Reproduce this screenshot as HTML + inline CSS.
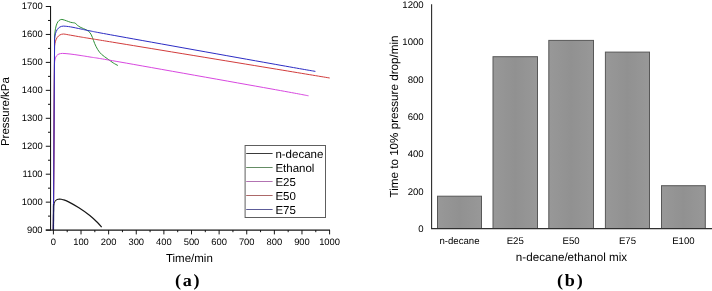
<!DOCTYPE html>
<html><head><meta charset="utf-8"><title>Figure</title>
<style>
html,body{margin:0;padding:0;background:#fff;}
svg{display:block;filter:blur(0.3px);}
text{font-family:"Liberation Sans",Arial,sans-serif;fill:#000;text-rendering:geometricPrecision;}
.tk{font-size:9.4px;}
.tkr{font-size:9.6px;}
.ttl{font-size:11.5px;}
.ttr{font-size:11.65px;}
.lg{font-size:11.5px;}
.cap{font-family:"Liberation Serif","DejaVu Serif",serif;font-weight:bold;font-size:16.2px;letter-spacing:1.6px;}
</style></head><body>
<svg width="712" height="291" viewBox="0 0 712 291">
<rect width="712" height="291" fill="#fff"/>
<g id="left">
<path d="M53.4,230L53.55,206C54.1,201 55.5,199.1 59.6,199.0C60.73,199.12 61.58,199.27 63.00,199.70C64.42,200.13 65.45,200.25 68.10,201.60C70.75,202.95 75.28,205.48 78.90,207.80C82.52,210.12 86.70,213.05 89.80,215.50C92.90,217.95 95.52,220.57 97.50,222.50C99.48,224.43 101.00,226.33 101.70,227.10" fill="none" stroke="#161616" stroke-width="1.2"/>
<path d="M53.4,230L54.62,36C55.4,25 57.5,19.6 61.9,19.4C63.43,19.63 65.05,20.32 66.50,20.80C67.95,21.28 69.42,21.97 70.60,22.30C71.78,22.63 72.82,22.65 73.60,22.80C74.38,22.95 74.68,22.80 75.30,23.20C75.92,23.60 76.37,24.48 77.30,25.20C78.23,25.92 79.42,26.73 80.90,27.50C82.38,28.27 84.68,28.93 86.20,29.80C87.72,30.67 88.97,31.43 90.00,32.70C91.03,33.97 91.62,35.58 92.40,37.40C93.18,39.22 93.80,41.55 94.70,43.60C95.60,45.65 96.65,47.90 97.80,49.70C98.95,51.50 99.93,52.85 101.60,54.40C103.27,55.95 105.87,57.58 107.80,59.00C109.73,60.42 111.52,61.82 113.20,62.90C114.88,63.98 117.12,65.07 117.90,65.50" fill="none" stroke="#2f9038" stroke-width="1.0"/>
<path d="M53.4,230L54.44,64C54.9,56 57,53.6 62.4,53.4C64.93,53.50 67.07,53.67 70.00,54.00C72.93,54.33 76.67,54.90 80.00,55.40C83.33,55.90 83.33,55.90 90.00,57.00C96.67,58.10 90.00,56.72 120.00,62.00C150.00,67.28 238.58,83.07 270.00,88.70C301.42,94.33 302.08,94.62 308.50,95.80" fill="none" stroke="#d848e0" stroke-width="1.0"/>
<path d="M53.4,230L54.55,46C55.3,39 58,34.2 63.4,34.0C65.80,34.20 67.68,34.70 70.60,35.20C73.52,35.70 77.67,36.45 80.90,37.00C84.13,37.55 83.48,37.43 90.00,38.50C96.52,39.57 90.00,38.47 120.00,43.40C150.00,48.33 235.05,62.33 270.00,68.10C304.95,73.87 319.75,76.35 329.70,78.00" fill="none" stroke="#d23c3c" stroke-width="1.0"/>
<path d="M53.4,230L54.6,38.8C55.2,31 58,26.3 63.4,26.1C65.80,26.23 67.68,26.42 70.60,26.90C73.52,27.38 77.67,28.33 80.90,29.00C84.13,29.67 83.48,29.65 90.00,30.90C96.52,32.15 90.00,31.08 120.00,36.50C150.00,41.92 237.43,57.58 270.00,63.40C302.57,69.22 307.83,70.07 315.40,71.40" fill="none" stroke="#2c2cc4" stroke-width="1.0"/>
<line x1="53.4" y1="230" x2="53.56" y2="204" stroke="#1c1c60" stroke-width="1.3"/>
<line x1="50.55" y1="6" x2="50.55" y2="230.6" stroke="#141414" stroke-width="1.05"/>
<line x1="45.8" y1="230.1" x2="330" y2="230.1" stroke="#141414" stroke-width="1.1"/>
<line x1="45.8" y1="230.10" x2="50.5" y2="230.10" stroke="#141414" stroke-width="1"/>
<text class="tk" x="42.6" y="233.00" text-anchor="end">900</text>
<line x1="48" y1="216.12" x2="50.5" y2="216.12" stroke="#141414" stroke-width="1"/>
<line x1="45.8" y1="202.15" x2="50.5" y2="202.15" stroke="#141414" stroke-width="1"/>
<text class="tk" x="42.6" y="205.05" text-anchor="end">1000</text>
<line x1="48" y1="188.17" x2="50.5" y2="188.17" stroke="#141414" stroke-width="1"/>
<line x1="45.8" y1="174.20" x2="50.5" y2="174.20" stroke="#141414" stroke-width="1"/>
<text class="tk" x="42.6" y="177.10" text-anchor="end">1100</text>
<line x1="48" y1="160.22" x2="50.5" y2="160.22" stroke="#141414" stroke-width="1"/>
<line x1="45.8" y1="146.25" x2="50.5" y2="146.25" stroke="#141414" stroke-width="1"/>
<text class="tk" x="42.6" y="149.15" text-anchor="end">1200</text>
<line x1="48" y1="132.28" x2="50.5" y2="132.28" stroke="#141414" stroke-width="1"/>
<line x1="45.8" y1="118.30" x2="50.5" y2="118.30" stroke="#141414" stroke-width="1"/>
<text class="tk" x="42.6" y="121.20" text-anchor="end">1300</text>
<line x1="48" y1="104.32" x2="50.5" y2="104.32" stroke="#141414" stroke-width="1"/>
<line x1="45.8" y1="90.35" x2="50.5" y2="90.35" stroke="#141414" stroke-width="1"/>
<text class="tk" x="42.6" y="93.25" text-anchor="end">1400</text>
<line x1="48" y1="76.38" x2="50.5" y2="76.38" stroke="#141414" stroke-width="1"/>
<line x1="45.8" y1="62.40" x2="50.5" y2="62.40" stroke="#141414" stroke-width="1"/>
<text class="tk" x="42.6" y="65.30" text-anchor="end">1500</text>
<line x1="48" y1="48.42" x2="50.5" y2="48.42" stroke="#141414" stroke-width="1"/>
<line x1="45.8" y1="34.45" x2="50.5" y2="34.45" stroke="#141414" stroke-width="1"/>
<text class="tk" x="42.6" y="37.35" text-anchor="end">1600</text>
<line x1="48" y1="20.47" x2="50.5" y2="20.47" stroke="#141414" stroke-width="1"/>
<line x1="45.8" y1="6.50" x2="50.5" y2="6.50" stroke="#141414" stroke-width="1"/>
<text class="tk" x="42.6" y="9.40" text-anchor="end">1700</text>
<line x1="53.40" y1="230" x2="53.40" y2="234.4" stroke="#141414" stroke-width="1"/>
<text class="tk" x="53.40" y="244.7" text-anchor="middle">0</text>
<line x1="67.21" y1="230" x2="67.21" y2="232.2" stroke="#141414" stroke-width="1"/>
<line x1="81.02" y1="230" x2="81.02" y2="234.4" stroke="#141414" stroke-width="1"/>
<text class="tk" x="81.02" y="244.7" text-anchor="middle">100</text>
<line x1="94.83" y1="230" x2="94.83" y2="232.2" stroke="#141414" stroke-width="1"/>
<line x1="108.64" y1="230" x2="108.64" y2="234.4" stroke="#141414" stroke-width="1"/>
<text class="tk" x="108.64" y="244.7" text-anchor="middle">200</text>
<line x1="122.45" y1="230" x2="122.45" y2="232.2" stroke="#141414" stroke-width="1"/>
<line x1="136.26" y1="230" x2="136.26" y2="234.4" stroke="#141414" stroke-width="1"/>
<text class="tk" x="136.26" y="244.7" text-anchor="middle">300</text>
<line x1="150.07" y1="230" x2="150.07" y2="232.2" stroke="#141414" stroke-width="1"/>
<line x1="163.88" y1="230" x2="163.88" y2="234.4" stroke="#141414" stroke-width="1"/>
<text class="tk" x="163.88" y="244.7" text-anchor="middle">400</text>
<line x1="177.69" y1="230" x2="177.69" y2="232.2" stroke="#141414" stroke-width="1"/>
<line x1="191.50" y1="230" x2="191.50" y2="234.4" stroke="#141414" stroke-width="1"/>
<text class="tk" x="191.50" y="244.7" text-anchor="middle">500</text>
<line x1="205.31" y1="230" x2="205.31" y2="232.2" stroke="#141414" stroke-width="1"/>
<line x1="219.12" y1="230" x2="219.12" y2="234.4" stroke="#141414" stroke-width="1"/>
<text class="tk" x="219.12" y="244.7" text-anchor="middle">600</text>
<line x1="232.93" y1="230" x2="232.93" y2="232.2" stroke="#141414" stroke-width="1"/>
<line x1="246.74" y1="230" x2="246.74" y2="234.4" stroke="#141414" stroke-width="1"/>
<text class="tk" x="246.74" y="244.7" text-anchor="middle">700</text>
<line x1="260.55" y1="230" x2="260.55" y2="232.2" stroke="#141414" stroke-width="1"/>
<line x1="274.36" y1="230" x2="274.36" y2="234.4" stroke="#141414" stroke-width="1"/>
<text class="tk" x="274.36" y="244.7" text-anchor="middle">800</text>
<line x1="288.17" y1="230" x2="288.17" y2="232.2" stroke="#141414" stroke-width="1"/>
<line x1="301.98" y1="230" x2="301.98" y2="234.4" stroke="#141414" stroke-width="1"/>
<text class="tk" x="301.98" y="244.7" text-anchor="middle">900</text>
<line x1="315.79" y1="230" x2="315.79" y2="232.2" stroke="#141414" stroke-width="1"/>
<line x1="329.60" y1="230" x2="329.60" y2="234.4" stroke="#141414" stroke-width="1"/>
<text class="tk" x="329.60" y="244.7" text-anchor="middle">1000</text>
<text class="ttl" transform="translate(9.2,111.6) rotate(-90)" text-anchor="middle">Pressure/kPa</text>
<text class="ttl" x="189.4" y="262.35" text-anchor="middle">Time/min</text>
<rect x="245.1" y="145.5" width="80.4" height="72" fill="#fff" stroke="#5e5e5e" stroke-width="1"/>
<line x1="246.2" y1="153.50" x2="272.6" y2="153.50" stroke="#3a3a3a" stroke-width="1"/>
<text class="lg" x="275.4" y="157.60">n-decane</text>
<line x1="246.2" y1="167.50" x2="272.6" y2="167.50" stroke="#648c64" stroke-width="1"/>
<text class="lg" x="275.4" y="171.60">Ethanol</text>
<line x1="246.2" y1="181.50" x2="272.6" y2="181.50" stroke="#b273b2" stroke-width="1"/>
<text class="lg" x="275.4" y="185.60">E25</text>
<line x1="246.2" y1="195.50" x2="272.6" y2="195.50" stroke="#ac6868" stroke-width="1"/>
<text class="lg" x="275.4" y="199.60">E50</text>
<line x1="246.2" y1="209.50" x2="272.6" y2="209.50" stroke="#5c5c98" stroke-width="1"/>
<text class="lg" x="275.4" y="213.60">E75</text>
<text class="cap" transform="translate(188.2,286.3) scale(1.12,1.06)" text-anchor="middle">(a)</text>
</g>
<g id="right">
<defs><linearGradient id="bg" x1="0" x2="1" y1="0" y2="0"><stop offset="0" stop-color="#989898"/><stop offset="0.5" stop-color="#919191"/><stop offset="1" stop-color="#989898"/></linearGradient></defs>
<rect x="437.50" y="196.20" width="44.00" height="32.30" fill="url(#bg)" stroke="#585858" stroke-width="1"/>
<text class="tkr" x="459.50" y="244.0" text-anchor="middle">n-decane</text>
<rect x="493.00" y="56.70" width="44.50" height="171.80" fill="url(#bg)" stroke="#585858" stroke-width="1"/>
<text class="tkr" x="515.25" y="244.0" text-anchor="middle">E25</text>
<rect x="548.80" y="40.40" width="44.70" height="188.10" fill="url(#bg)" stroke="#585858" stroke-width="1"/>
<text class="tkr" x="571.15" y="244.0" text-anchor="middle">E50</text>
<rect x="605.40" y="52.10" width="44.10" height="176.40" fill="url(#bg)" stroke="#585858" stroke-width="1"/>
<text class="tkr" x="627.45" y="244.0" text-anchor="middle">E75</text>
<rect x="661.50" y="185.70" width="43.80" height="42.80" fill="url(#bg)" stroke="#585858" stroke-width="1"/>
<text class="tkr" x="683.40" y="244.0" text-anchor="middle">E100</text>
<line x1="431.6" y1="4.3" x2="431.6" y2="229" stroke="#2a2a2a" stroke-width="1.1"/>
<line x1="431" y1="228.55" x2="712" y2="228.55" stroke="#303030" stroke-width="1.2"/>
<text class="tkr" x="423.7" y="231.90" text-anchor="end">0</text>
<text class="tkr" x="423.7" y="194.55" text-anchor="end">200</text>
<text class="tkr" x="423.7" y="157.20" text-anchor="end">400</text>
<text class="tkr" x="423.7" y="119.85" text-anchor="end">600</text>
<text class="tkr" x="423.7" y="82.50" text-anchor="end">800</text>
<text class="tkr" x="423.7" y="45.15" text-anchor="end">1000</text>
<text class="tkr" x="423.7" y="7.80" text-anchor="end">1200</text>
<text class="ttr" transform="translate(397.7,116.5) rotate(-90)" text-anchor="middle">Time to 10% pressure drop/min</text>
<text class="ttr" x="571.5" y="261.4" text-anchor="middle">n-decane/ethanol mix</text>
<text class="cap" transform="translate(570.7,286.3) scale(1.12,1.06)" text-anchor="middle">(b)</text>
</g>
</svg>
</body></html>
